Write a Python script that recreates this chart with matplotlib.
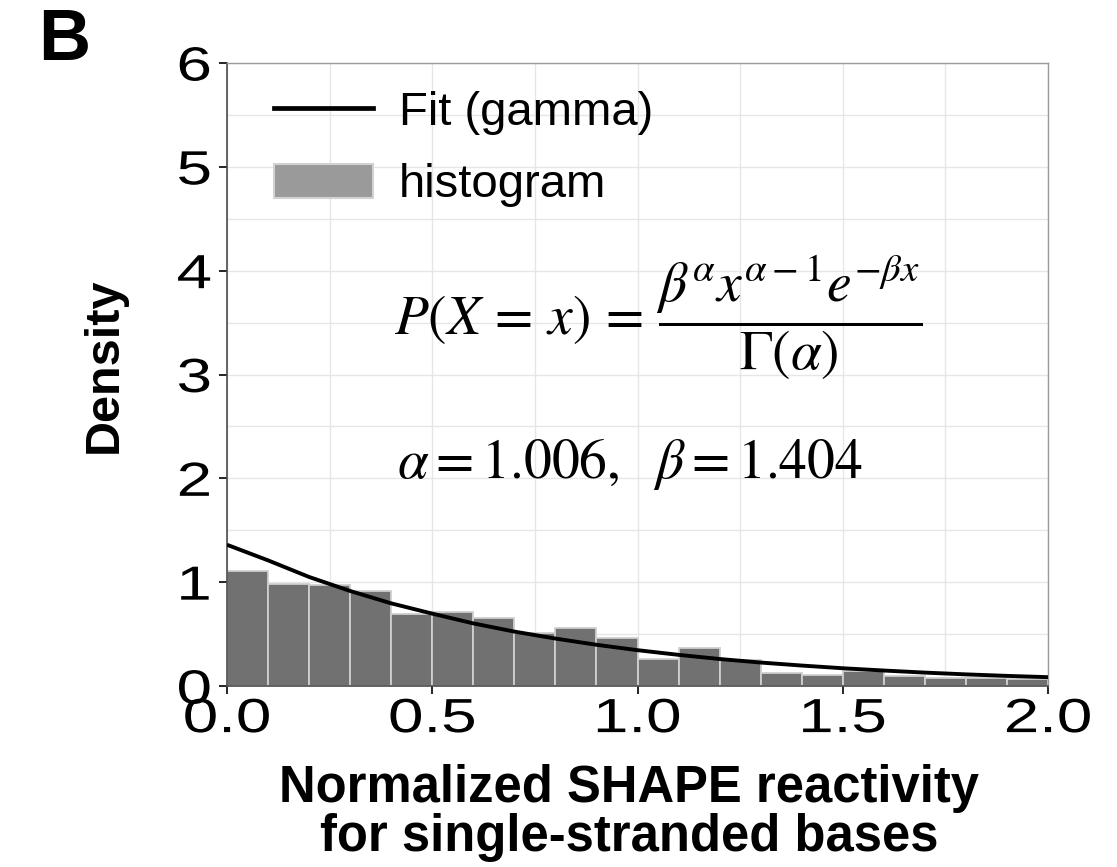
import numpy as np
import matplotlib
matplotlib.use("Agg")
import matplotlib.pyplot as plt
from matplotlib.patches import Patch
from matplotlib.lines import Line2D
from matplotlib.transforms import Affine2D
import matplotlib.patheffects as pe

# ---------------- data ----------------
bin_edges = [0.0, 0.1, 0.2, 0.3, 0.4, 0.5, 0.6, 0.7, 0.8, 0.9, 1.0,
             1.1, 1.2, 1.3, 1.4, 1.5, 1.6, 1.7, 1.8, 1.9, 2.0]
hist_density = [1.105, 0.98, 0.97, 0.918, 0.69, 0.713, 0.658, 0.51, 0.56, 0.465,
                0.26, 0.363, 0.254, 0.122, 0.106, 0.14, 0.10, 0.08, 0.078, 0.07]
fit_x = [0.0, 0.1, 0.2, 0.3, 0.4, 0.5, 0.6, 0.7, 0.8, 0.9, 1.0,
         1.1, 1.2, 1.3, 1.4, 1.5, 1.6, 1.7, 1.8, 1.9, 2.0]
fit_y = [1.36, 1.21, 1.05, 0.915, 0.796, 0.697, 0.603, 0.524, 0.457, 0.397, 0.345,
         0.30, 0.26, 0.226, 0.197, 0.171, 0.149, 0.129, 0.112, 0.0975, 0.085]
x_ticks = [0.0, 0.5, 1.0, 1.5, 2.0]
x_ticklabels = ["0.0", "0.5", "1.0", "1.5", "2.0"]
y_ticks = [0, 1, 2, 3, 4, 5, 6]
y_ticklabels = ["0", "1", "2", "3", "4", "5", "6"]
legend_labels = ["Fit (gamma)", "histogram"]
formula = r"$P(X\,=\,x)\,=\,\dfrac{\beta^{\alpha}x^{\alpha-1}e^{-\beta x}}{\Gamma(\alpha)}$"
params_text = r"$\alpha=1.006,\ \ \beta=1.404$"
xlabel = "Normalized SHAPE reactivity\nfor single-stranded bases"
ylabel = "Density"
panel_letter = "B"

# ---------------- style ----------------
plt.rcParams['font.family'] = ['Liberation Sans', 'DejaVu Sans']
plt.rcParams['mathtext.fontset'] = 'stix'


class StretchX(pe.AbstractPathEffect):
    """Widen glyphs horizontally about the text's centre."""
    def __init__(self, sx):
        super().__init__()
        self.sx = sx

    def draw_path(self, renderer, gc, tpath, affine, rgbFace=None):
        ext = tpath.get_extents()
        cx = 0.5 * (ext.x0 + ext.x1)
        t = Affine2D().translate(-cx, 0).scale(self.sx, 1.0).translate(cx, 0) + affine
        renderer.draw_path(gc, tpath, t, rgbFace)


W, H = 1117, 867
fig = plt.figure(figsize=(W / 100, H / 100), dpi=100)
ax = fig.add_axes([227 / W, 1 - 686 / H, (1048 - 227) / W, (686 - 63) / H])

edges = np.array(bin_edges)
widths = np.diff(edges)
ax.bar(edges[:-1], hist_density, width=widths, align='edge',
       facecolor='#717171', edgecolor='#cfcfcf', linewidth=1.3, zorder=2)
ax.plot(fit_x, fit_y, color='black', linewidth=2.8, zorder=3, solid_capstyle='butt')

ax.set_xlim(0, 2)
ax.set_ylim(0, 6)
ax.set_xticks(x_ticks)
ax.set_xticklabels(x_ticklabels)
ax.set_yticks(y_ticks)
ax.set_yticklabels(y_ticklabels)
ax.set_xticks(np.arange(0.25, 2.0, 0.5), minor=True)
ax.set_yticks(np.arange(0.5, 6.0, 1.0), minor=True)
ax.grid(True, which='both', color='#e6e6e6', linewidth=1.0, zorder=0)
ax.set_axisbelow(True)
ax.tick_params(axis='both', which='major', direction='out', length=6, width=1.2,
               color='black', labelsize=34.5, labelcolor='black')
ax.tick_params(axis='x', which='major', pad=2)
ax.tick_params(axis='y', which='major', pad=8)
ax.tick_params(axis='both', which='minor', length=0)
for lbl in ax.get_xticklabels() + ax.get_yticklabels():
    lbl.set_path_effects([StretchX(1.33)])

for side in ['top', 'right']:
    ax.spines[side].set_color('#9a9a9a')
    ax.spines[side].set_linewidth(1.0)
for side in ['left', 'bottom']:
    ax.spines[side].set_color('#4a4a4a')
    ax.spines[side].set_linewidth(1.2)

ax.set_xlabel(xlabel, fontsize=36.5, fontweight='bold', linespacing=1.0, va='top')
ax.xaxis.set_label_coords(0.49, -0.125)
ax.set_ylabel(ylabel, fontsize=35, fontweight='bold', va='center')
ax.yaxis.set_label_coords(-0.15, 0.515)

handles = [Line2D([], [], color='black', linewidth=3.4),
           Patch(facecolor='#9a9a9a', edgecolor='#d2d2d2', linewidth=1.5)]
ax.legend(handles, legend_labels, loc='upper left', bbox_to_anchor=(0.057, 0.955),
          frameon=False, fontsize=34, handlelength=2.1, handleheight=0.72,
          handletextpad=0.55, labelspacing=0.6, borderpad=0, borderaxespad=0)

ax.text(0.204, 0.592, formula, transform=ax.transAxes, fontsize=40,
        ha='left', va='center')
ax.text(0.207, 0.334, params_text, transform=ax.transAxes, fontsize=40,
        ha='left', va='baseline')

fig.text(38 / W, 1 - 60 / H, panel_letter, fontsize=52, fontweight='bold',
         ha='left', va='baseline')

fig.savefig('out.png', dpi=100)
